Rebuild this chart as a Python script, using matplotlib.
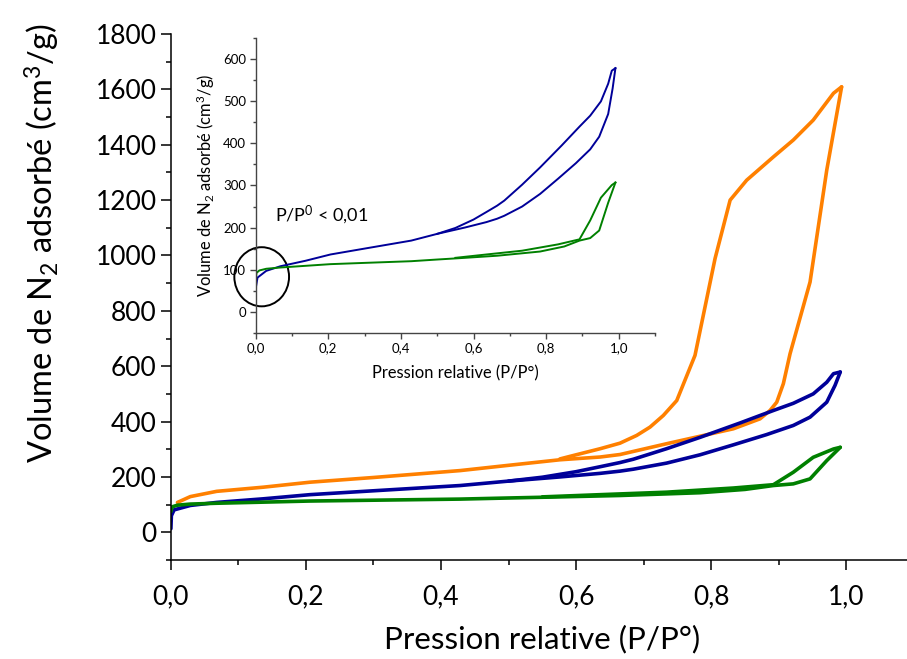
import matplotlib
matplotlib.use("Agg")
import matplotlib.pyplot as plt
from matplotlib.patches import Ellipse

plt.rcParams['font.family'] = ['Lato', 'DejaVu Sans']
plt.rcParams['mathtext.default'] = 'regular'

# ---- data (P/P0, volume adsorbed cm3/g) ----
orange_ads_p = [0.010, 0.029, 0.068, 0.137, 0.206, 0.300, 0.4285, 0.500, 0.576, 0.6357, 0.665, 0.734, 0.8328, 0.8723, 0.887, 0.897, 0.9068, 0.9167, 0.9463, 0.971, 0.993]
orange_ads_v = [108, 129, 148, 163, 181, 198, 223, 242, 262, 272, 281, 320, 374, 410, 440, 470, 537, 645, 904, 1308, 1609]
orange_des_p = [0.993, 0.981, 0.951, 0.9215, 0.892, 0.8525, 0.828, 0.8057, 0.776, 0.749, 0.7291, 0.7094, 0.6897, 0.665, 0.6357, 0.600, 0.576]
orange_des_v = [1609, 1586, 1489, 1417, 1356, 1272, 1200, 989, 639, 476, 422, 380, 350, 322, 302, 280, 265]

blue_ads_p = [0.0003, 0.001, 0.005, 0.029, 0.068, 0.137, 0.206, 0.300, 0.4285, 0.500, 0.576, 0.6357, 0.665, 0.6847, 0.734, 0.7835, 0.8328, 0.882, 0.9215, 0.9463, 0.971, 0.9833, 0.991]
blue_ads_v = [13, 60, 81, 97, 108, 121, 136, 150, 169, 185, 200, 213, 221, 228, 250, 280, 316, 353, 386, 416, 470, 531, 579]
blue_des_p = [0.991, 0.981, 0.971, 0.951, 0.9215, 0.892, 0.8427, 0.7835, 0.734, 0.6847, 0.665, 0.6357, 0.600, 0.550, 0.500]
blue_des_v = [579, 573, 542, 500, 466, 440, 395, 343, 302, 264, 252, 237, 219, 199, 185]

green_ads_p = [0.0003, 0.002, 0.010, 0.029, 0.068, 0.137, 0.206, 0.300, 0.4285, 0.500, 0.576, 0.665, 0.7835, 0.850, 0.892, 0.9215, 0.9463, 0.971, 0.991]
green_ads_v = [75, 92, 98, 102, 105, 109, 113, 116, 120, 124, 128, 133, 143, 155, 169, 175, 193, 259, 307]
green_des_p = [0.991, 0.981, 0.951, 0.9215, 0.892, 0.8328, 0.734, 0.6357, 0.550]
green_des_v = [307, 301, 271, 217, 172, 160, 145, 136, 128]

main_yticks = [0, 200, 400, 600, 800, 1000, 1200, 1400, 1600, 1800]
main_xticks = [0.0, 0.2, 0.4, 0.6, 0.8, 1.0]
xtick_labels = ['0,0', '0,2', '0,4', '0,6', '0,8', '1,0']
inset_yticks = [0, 100, 200, 300, 400, 500, 600]

C_OR = '#FF8000'
C_BL = '#000099'
C_GR = '#008000'

W, H = 907, 659
fig = plt.figure(figsize=(W / 100, H / 100), dpi=100)

# ---- main axes ----
L, R, B, T = 170.7, 913.9, 560, 34
ax = fig.add_axes([L / W, 1 - B / H, (R - L) / W, (B - T) / H])
for p, v, c in [(orange_ads_p, orange_ads_v, C_OR), (orange_des_p, orange_des_v, C_OR),
                (blue_ads_p, blue_ads_v, C_BL), (blue_des_p, blue_des_v, C_BL),
                (green_ads_p, green_ads_v, C_GR), (green_des_p, green_des_v, C_GR)]:
    ax.plot(p, v, color=c, lw=2.6, solid_joinstyle='round', solid_capstyle='round')

ax.set_xlim(0, 1.1)
ax.set_ylim(-100, 1800)
ax.spines['top'].set_visible(False)
ax.spines['right'].set_visible(False)
for s in ['left', 'bottom']:
    ax.spines[s].set_linewidth(1.1)
    ax.spines[s].set_color('black')
ax.set_yticks(main_yticks)
ax.set_yticks([v + 100 for v in main_yticks[:-1]] + [-100], minor=True)
ax.set_xticks(main_xticks)
ax.set_xticklabels(xtick_labels)
ax.set_xticks([0.1, 0.3, 0.5, 0.7, 0.9, 1.1], minor=True)
ax.tick_params(which='major', direction='out', length=7.2, width=1.1, labelsize=19, color='black')
ax.tick_params(which='minor', direction='out', length=3.6, width=1.1, color='black')
ax.tick_params(axis='x', which='major', pad=10)
ax.tick_params(axis='y', which='major', pad=3)

ax.set_xlabel('Pression relative (P/P°)', fontsize=22.5)
ax.xaxis.set_label_coords(0.5003, -0.124)
ax.set_ylabel('Volume de N$_2$ adsorbé (cm$^3$/g)', fontsize=23.5)
ax.yaxis.set_label_coords(-0.146, 0.603)

# ---- inset ----
iL, iR, iB, iT = 255.7, 655.0, 332.7, 38.3
ins = fig.add_axes([iL / W, 1 - iB / H, (iR - iL) / W, (iB - iT) / H])
ins.patch.set_alpha(0)
for p, v, c in [(blue_ads_p, blue_ads_v, C_BL), (blue_des_p, blue_des_v, C_BL),
                (green_ads_p, green_ads_v, C_GR), (green_des_p, green_des_v, C_GR)]:
    ins.plot(p, v, color=c, lw=1.4, solid_joinstyle='round')
ins.set_xlim(0, 1.1)
ins.set_ylim(-50, 650)
ins.spines['top'].set_visible(False)
ins.spines['right'].set_visible(False)
for s in ['left', 'bottom']:
    ins.spines[s].set_linewidth(1.0)
    ins.spines[s].set_color('#444444')
ins.set_yticks(inset_yticks)
ins.set_yticks([v + 50 for v in inset_yticks] + [-50], minor=True)
ins.set_xticks(main_xticks)
ins.set_xticklabels(xtick_labels)
ins.set_xticks([0.1, 0.3, 0.5, 0.7, 0.9, 1.1], minor=True)
ins.tick_params(which='major', direction='out', length=4, width=1.0, labelsize=9.5, color='#444444', pad=3)
ins.tick_params(which='minor', direction='out', length=2, width=1.0, color='#444444')
ins.set_xlabel('Pression relative (P/P°)', fontsize=11.9, labelpad=8)
ins.set_ylabel('Volume de N$_2$ adsorbé (cm$^3$/g)', fontsize=11.9, labelpad=4)

ins.add_patch(Ellipse((0.0165, 83), 0.1507, 140.6, fill=False, edgecolor='black', lw=1.4, clip_on=False))
ins.text(0.053, 230, 'P/P$^0$ < 0,01', fontsize=13, ha='left', va='center')

fig.savefig('out.png', dpi=100)
